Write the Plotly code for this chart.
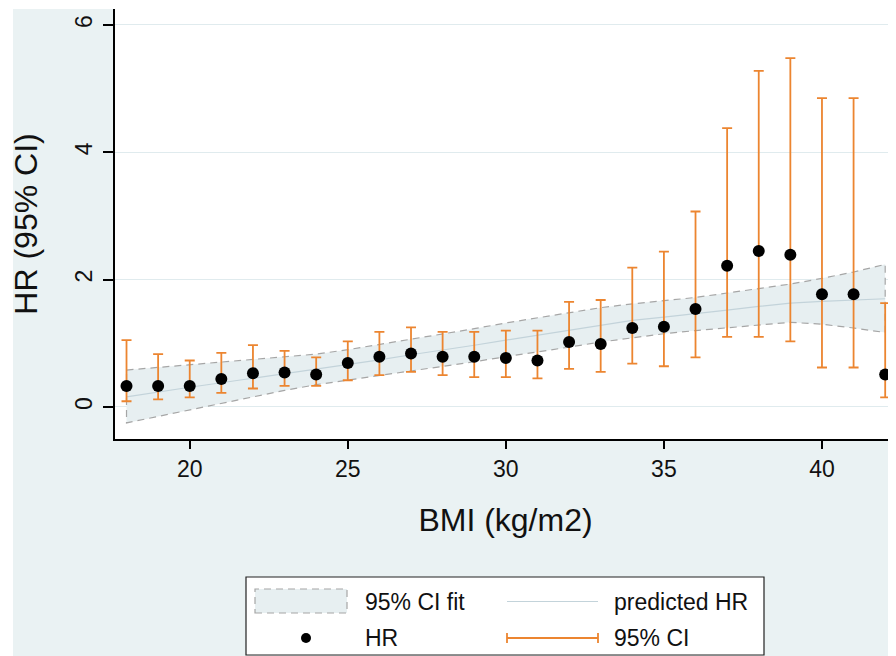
import plotly.graph_objects as go

# ---------------- data ----------------
bmi = list(range(18, 43))
hr = [0.33, 0.33, 0.33, 0.44, 0.53, 0.54, 0.51, 0.69, 0.79, 0.84, 0.79, 0.79, 0.77,
      0.73, 1.02, 0.99, 1.24, 1.26, 1.54, 2.22, 2.45, 2.39, 1.77, 1.77, 0.51]
ci_hi = [1.05, 0.83, 0.73, 0.85, 0.97, 0.88, 0.78, 1.03, 1.18, 1.25, 1.18, 1.18, 1.20,
         1.20, 1.65, 1.68, 2.19, 2.44, 3.07, 4.38, 5.28, 5.48, 4.85, 4.85, 1.63]
ci_lo = [0.09, 0.12, 0.15, 0.22, 0.29, 0.33, 0.33, 0.42, 0.50, 0.55, 0.50, 0.47, 0.47,
         0.45, 0.60, 0.55, 0.68, 0.64, 0.78, 1.10, 1.10, 1.03, 0.62, 0.62, 0.15]

fit_hi = [0.58, 0.62, 0.66, 0.70, 0.74, 0.78, 0.83, 0.90, 0.98, 1.06, 1.14, 1.23, 1.32,
          1.40, 1.48, 1.56, 1.62, 1.67, 1.72, 1.79, 1.86, 1.93, 2.02, 2.12, 2.24]
fit_lo = [-0.25, -0.15, -0.05, 0.06, 0.16, 0.26, 0.35, 0.42, 0.50, 0.57, 0.64, 0.71, 0.79,
          0.87, 0.94, 1.02, 1.09, 1.15, 1.20, 1.24, 1.29, 1.33, 1.30, 1.24, 1.17]
fit_pred = [0.16, 0.24, 0.31, 0.38, 0.45, 0.52, 0.59, 0.66, 0.74, 0.82, 0.89, 0.97, 1.05,
            1.13, 1.21, 1.29, 1.36, 1.41, 1.46, 1.52, 1.58, 1.63, 1.66, 1.68, 1.70]

x_ticks = [20, 25, 30, 35, 40]
y_ticks = [0, 2, 4, 6]
legend_labels = ["95% CI fit", "predicted HR", "HR", "95% CI"]

# ---------------- layout geometry ----------------
OFF = 8                      # page body margin
W, H = 896 - OFF, 656 - OFF
ML, MR, MT, MB = 107, 0, 1, 217
PW, PH = W - ML - MR, H - MT - MB


def px(x):
    """reference page pixel -> paper x"""
    return (x - OFF - ML) / PW


def py(y):
    """reference page pixel -> paper y"""
    return (H - MB - (y - OFF)) / PH


FONT = "Arial, Liberation Sans, sans-serif"
ORANGE = "#ec8530"
BAND_FILL = "#e7eff1"
BAND_LINE = "#a6a6a6"
PRED_LINE = "#c3d3da"

fig = go.Figure()

# 95% CI fit band (closed polygon)
band_x = bmi + bmi[::-1] + [bmi[0]]
band_y = fit_hi + fit_lo[::-1] + [fit_hi[0]]
fig.add_trace(go.Scatter(
    x=band_x, y=band_y, mode="lines", fill="toself", fillcolor=BAND_FILL,
    line=dict(color=BAND_LINE, width=1.2, dash="7px,5px"),
    name=legend_labels[0], hoverinfo="skip"))

# predicted HR
fig.add_trace(go.Scatter(
    x=bmi, y=fit_pred, mode="lines", line=dict(color=PRED_LINE, width=1.2),
    name=legend_labels[1]))

# HR points with 95% CI
fig.add_trace(go.Scatter(
    x=bmi, y=hr, mode="markers", name=legend_labels[2],
    marker=dict(color="black", size=12),
    error_y=dict(type="data", symmetric=False,
                 array=[h - m for h, m in zip(ci_hi, hr)],
                 arrayminus=[m - l for m, l in zip(hr, ci_lo)],
                 color=ORANGE, thickness=1.8, width=5)))

shapes = [
    # white strips around the outer region
    dict(type="rect", xref="paper", yref="paper", x0=px(0), x1=px(13), y0=py(700), y1=py(0),
         fillcolor="white", line=dict(width=0), layer="above"),
    dict(type="rect", xref="paper", yref="paper", x0=px(0), x1=px(900), y0=py(9), y1=py(0),
         fillcolor="white", line=dict(width=0), layer="above"),
    # legend box
    dict(type="rect", xref="paper", yref="paper", x0=px(246), x1=px(764), y0=py(655), y1=py(577),
         fillcolor="white", line=dict(color="#222", width=1.2), layer="above"),
    # band swatch
    dict(type="rect", xref="paper", yref="paper", x0=px(255), x1=px(347), y0=py(613), y1=py(589),
         fillcolor=BAND_FILL, line=dict(color=BAND_LINE, width=1.2, dash="7px,5px"), layer="above"),
    # predicted line swatch
    dict(type="line", xref="paper", yref="paper", x0=px(507), x1=px(598), y0=py(601.5), y1=py(601.5),
         line=dict(color=PRED_LINE, width=1.2), layer="above"),
    # HR marker swatch
    dict(type="circle", xref="paper", yref="paper", x0=px(301), x1=px(311), y0=py(643), y1=py(633),
         fillcolor="black", line=dict(color="black", width=0), layer="above"),
    # CI swatch
    dict(type="line", xref="paper", yref="paper", x0=px(507), x1=px(598), y0=py(638), y1=py(638),
         line=dict(color=ORANGE, width=1.8), layer="above"),
    dict(type="line", xref="paper", yref="paper", x0=px(507), x1=px(507), y0=py(643), y1=py(633),
         line=dict(color=ORANGE, width=1.8), layer="above"),
    dict(type="line", xref="paper", yref="paper", x0=px(598), x1=px(598), y0=py(643), y1=py(633),
         line=dict(color=ORANGE, width=1.8), layer="above"),
]

ann_pos = [(363, 602), (612, 602), (363, 638), (612, 638)]
annotations = [
    dict(text=t, xref="paper", yref="paper", x=px(ax), y=py(ay), xanchor="left", yanchor="middle",
         showarrow=False, font=dict(size=23, color="#111", family=FONT))
    for t, (ax, ay) in zip(legend_labels, ann_pos)
]

fig.update_layout(
    width=W, height=H,
    margin=dict(l=ML, r=MR, t=MT, b=MB, pad=0),
    paper_bgcolor="#eaf2f3", plot_bgcolor="white",
    showlegend=False,
    font=dict(family=FONT, color="#111"),
    shapes=shapes, annotations=annotations,
)

fig.update_xaxes(
    range=[17.636, 42.342], tickvals=x_ticks, ticks="outside", ticklen=8, tickwidth=1.5,
    tickcolor="black", showline=True, linecolor="black", linewidth=1.8,
    showgrid=False, zeroline=False, tickfont=dict(size=23, color="#111"),
    ticklabelstandoff=0,
    title=dict(text="BMI (kg/m2)", font=dict(size=32, color="#111"), standoff=28),
)
fig.update_yaxes(
    range=[-0.503, 6.251], tickvals=y_ticks, ticks="outside", ticklen=10, tickwidth=1.5,
    tickcolor="black", showline=True, linecolor="black", linewidth=1.8,
    tickangle=-90, showgrid=True, gridcolor="#e0ebee", gridwidth=1.2, zeroline=False,
    tickfont=dict(size=23, color="#111"), ticklabelstandoff=2,
    title=dict(text="HR (95% CI)", font=dict(size=32, color="#111"), standoff=25),
)

fig.write_html("out.html")
